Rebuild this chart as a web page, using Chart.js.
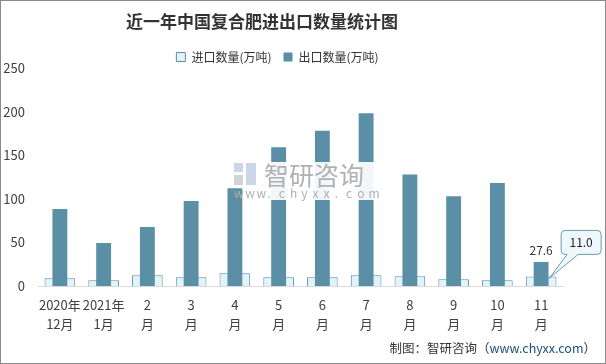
<!DOCTYPE html>
<html>
<head>
<meta charset="utf-8">
<script src="https://cdn.jsdelivr.net/npm/chart.js@4"></script>
<style>
    html, body { margin: 0; padding: 0; background: #fff; }
    #wrap { width: 606px; height: 364px; }
</style>
</head>
<body>
<div id="wrap"><canvas id="tradeChart" width="606" height="364"></canvas></div>
<script>
// Data
const categories = [
    ['2020年', '12月'], ['2021年', '1月'], ['2', '月'], ['3', '月'], ['4', '月'], ['5', '月'],
    ['6', '月'], ['7', '月'], ['8', '月'], ['9', '月'], ['10', '月'], ['11', '月']
];
const importValues = [8.8, 6.5, 12.2, 10.0, 14.5, 10.0, 10.0, 12.2, 11.1, 7.7, 6.5, 11.0];
const exportValues = [88.3, 49.3, 67.7, 97.5, 112.0, 159.0, 178.0, 198.0, 128.0, 103.0, 118.0, 27.6];
const yTicks = [0, 50, 100, 150, 200, 250];

const seriesNames = ['进口数量(万吨)', '出口数量(万吨)'];
const titleText = '近一年中国复合肥进出口数量统计图';

const colors = {
    importFill: '#e2f4f9',
    importBorder: '#5b8fa8',
    exportFill: '#5b8fa5',
    text: '#404040',
    axis: '#d9d9d9'
};

const FONT = "'Noto Sans CJK SC', 'Noto Sans', sans-serif";

// Title, legend offset, watermark, labels, callout and footer
const decorPlugin = {
    id: 'decor',
    afterLayout(chart) {
        // the reference centres its legend a bit left of the page centre
        const lg = chart.legend;
        if (lg) {
            lg.left -= 4;
            lg.right -= 4;
            lg.top += 5;
            lg.bottom += 5;
        }
    },
    afterDatasetsDraw(chart) {
        const ctx = chart.ctx;
        ctx.save();

        // watermark
        ctx.fillStyle = 'rgba(255,255,255,0.92)';
        ctx.fillRect(244, 162, 131, 38);
        ctx.fillStyle = 'rgba(190,205,228,0.8)';
        ctx.fillRect(234, 163, 9, 9);
        ctx.fillRect(246, 163, 10, 22);
        ctx.fillStyle = 'rgba(200,200,205,0.8)';
        ctx.fillRect(234, 175, 9, 10);
        ctx.fillStyle = '#b0b0b0';
        ctx.font = '25px ' + FONT;
        ctx.textBaseline = 'middle';
        ctx.textAlign = 'left';
        ctx.fillText('智研咨询', 264, 175);
        ctx.font = '12px ' + FONT;
        const url = 'www.chyxx.com';
        for (let i = 0; i < url.length; i++) {
            ctx.fillText(url[i], 234 + i * 11.2, 193);
        }

        // value label on last export bar
        const expMeta = chart.getDatasetMeta(1);
        const impMeta = chart.getDatasetMeta(0);
        const last = exportValues.length - 1;
        const eb = expMeta.data[last];
        ctx.fillStyle = '#333';
        ctx.font = '12px ' + FONT;
        ctx.textAlign = 'center';
        ctx.textBaseline = 'bottom';
        ctx.fillText(exportValues[last].toFixed(1), eb.x, eb.y - 5);

        // callout for last import bar
        const ib = impMeta.data[last];
        const bx = ib.x + 20, by = ib.y - 46, bw = 40, bh = 24;
        ctx.beginPath();
        ctx.moveTo(bx + 4, by);
        ctx.lineTo(bx + bw - 4, by);
        ctx.quadraticCurveTo(bx + bw, by, bx + bw, by + 4);
        ctx.lineTo(bx + bw, by + bh - 4);
        ctx.quadraticCurveTo(bx + bw, by + bh, bx + bw - 4, by + bh);
        ctx.lineTo(bx + 17, by + bh);
        ctx.lineTo(ib.x + 8, ib.y + 2);
        ctx.lineTo(bx + 6, by + bh);
        ctx.lineTo(bx + 4, by + bh);
        ctx.quadraticCurveTo(bx, by + bh, bx, by + bh - 4);
        ctx.lineTo(bx, by + 4);
        ctx.quadraticCurveTo(bx, by, bx + 4, by);
        ctx.closePath();
        ctx.fillStyle = '#eef8fa';
        ctx.fill();
        ctx.strokeStyle = '#6a9bb2';
        ctx.lineWidth = 1;
        ctx.stroke();
        ctx.fillStyle = '#222';
        ctx.textBaseline = 'middle';
        ctx.fillText(importValues[last].toFixed(1), bx + bw / 2, by + bh / 2);

        ctx.restore();
    },
    afterDraw(chart) {
        const ctx = chart.ctx;
        ctx.save();

        // title
        ctx.fillStyle = '#333';
        ctx.font = 'bold 17px ' + FONT;
        ctx.textAlign = 'center';
        ctx.textBaseline = 'middle';
        ctx.fillText(titleText, 262, 22);

        // footer
        ctx.font = '12.5px ' + FONT;
        ctx.textAlign = 'left';
        ctx.textBaseline = 'middle';
        const a = '制图：智研咨询（', b = 'www.chyxx.com', c = '）';
        const wa = ctx.measureText(a).width, wb = ctx.measureText(b).width, wc = ctx.measureText(c).width;
        let x = 596 - (wa + wb + wc);
        ctx.fillStyle = '#333';
        ctx.fillText(a, x, 348);
        ctx.fillStyle = '#1f4e79';
        ctx.fillText(b, x + wa, 348);
        ctx.fillStyle = '#333';
        ctx.fillText(c, x + wa + wb, 348);

        // frame
        ctx.strokeStyle = '#8a8a8a';
        ctx.lineWidth = 1;
        ctx.strokeRect(0.5, 0.5, 605, 363);
        ctx.restore();
    }
};

const ctx = document.getElementById('tradeChart');
new Chart(ctx, {
    type: 'bar',
    data: {
        labels: categories,
        datasets: [
            {
                label: seriesNames[0],
                data: importValues,
                backgroundColor: colors.importFill,
                borderColor: colors.importBorder,
                borderWidth: 1,
                barPercentage: 0.7,
                categoryPercentage: 1,
                grouped: false,
                order: 1
            },
            {
                label: seriesNames[1],
                data: exportValues,
                backgroundColor: colors.exportFill,
                borderColor: colors.exportFill,
                borderWidth: 0,
                barPercentage: 0.34,
                categoryPercentage: 1,
                grouped: false,
                order: 0
            }
        ]
    },
    options: {
        responsive: false,
        animation: false,
        layout: {
            padding: { top: 34, right: 43, bottom: 0, left: 0 }
        },
        plugins: {
            title: { display: false },
            legend: {
                display: true,
                position: 'top',
                labels: {
                    boxWidth: 9,
                    boxHeight: 9,
                    padding: 12,
                    color: '#333',
                    font: { size: 12, family: FONT },
                    sort: (a, b) => a.datasetIndex - b.datasetIndex
                }
            },
            tooltip: { enabled: true }
        },
        scales: {
            x: {
                grid: { display: false, drawTicks: false },
                border: { display: true, color: colors.axis, width: 1 },
                ticks: {
                    color: colors.text,
                    font: { size: 13, family: FONT, lineHeight: 1.5 },
                    padding: 9,
                    maxRotation: 0,
                    autoSkip: false
                },
                afterFit(axis) { axis.height = 78; }
            },
            y: {
                min: 0,
                max: 250,
                grid: { display: false, drawTicks: false },
                border: { display: false },
                ticks: {
                    color: colors.text,
                    font: { size: 13, family: FONT },
                    padding: 13,
                    stepSize: 50,
                    callback: (v) => yTicks.includes(v) ? v : ''
                },
                afterFit(axis) { axis.width = 38; }
            }
        }
    },
    plugins: [decorPlugin]
});
</script>
</body>
</html>
